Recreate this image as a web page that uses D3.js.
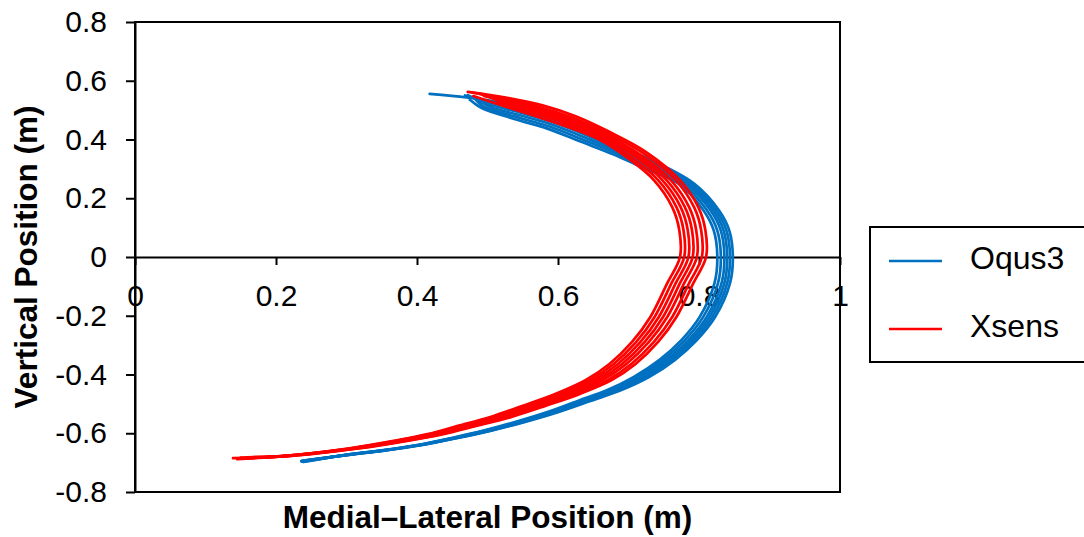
<!DOCTYPE html>
<html>
<head>
<meta charset="utf-8">
<script src="https://cdn.jsdelivr.net/npm/d3@7"></script>
<style>
  html, body { margin: 0; padding: 0; background: #fff; }
  svg { display: block; }
  text { font-family: "Liberation Sans", Arial, sans-serif; }
</style>
</head>
<body>
<svg id="chart" width="1084" height="537"></svg>
<script>
// ---------- data ----------
const xTicks = [0, 0.2, 0.4, 0.6, 0.8, 1];
const xTickLabels = ["0", "0.2", "0.4", "0.6", "0.8", "1"];
const yTicks = [-0.8, -0.6, -0.4, -0.2, 0, 0.2, 0.4, 0.6, 0.8];
const yTickLabels = ["-0.8", "-0.6", "-0.4", "-0.2", "0", "0.2", "0.4", "0.6", "0.8"];
const seriesNames = ["Oqus3", "Xsens"];
const xTitle = "Medial\u2013Lateral Position (m)";
const yTitle = "Vertical Position (m)";

// Oqus3 trials: [medial-lateral, vertical] (m)
const oqus3Trial1 = [[0.418,0.555],[0.470,0.543],[0.505,0.532],[0.552,0.506],[0.599,0.473],[0.647,0.428],[0.694,0.372],[0.737,0.325],[0.793,0.250],[0.828,0.160],[0.843,0.090],
  [0.848,0.000],[0.844,-0.089],[0.823,-0.204],[0.797,-0.283],[0.766,-0.350],[0.729,-0.409],[0.690,-0.453],[0.646,-0.490],[0.600,-0.528],[0.552,-0.562],[0.504,-0.592],[0.458,-0.616],[0.408,-0.640],[0.351,-0.660],[0.312,-0.671],[0.237,-0.695]];
const oqus3Trial2 = [[0.468,0.550],[0.502,0.527],[0.549,0.499],[0.596,0.466],[0.644,0.421],[0.691,0.367],[0.734,0.320],[0.789,0.250],[0.824,0.160],[0.839,0.090],
  [0.844,0.000],[0.840,-0.089],[0.819,-0.204],[0.793,-0.283],[0.762,-0.350],[0.725,-0.409],[0.686,-0.453],[0.643,-0.490],[0.597,-0.528],[0.550,-0.562],[0.502,-0.592],[0.456,-0.616],[0.406,-0.640],[0.350,-0.660],[0.311,-0.671],[0.236,-0.694]];
const oqus3Trial3 = [[0.472,0.551],[0.499,0.522],[0.546,0.492],[0.593,0.459],[0.641,0.414],[0.688,0.362],[0.731,0.315],[0.785,0.250],[0.820,0.160],[0.835,0.090],
  [0.840,0.000],[0.836,-0.089],[0.815,-0.204],[0.789,-0.283],[0.758,-0.350],[0.721,-0.409],[0.683,-0.453],[0.640,-0.490],[0.594,-0.528],[0.547,-0.562],[0.500,-0.592],[0.455,-0.616],[0.405,-0.640],[0.349,-0.660],[0.310,-0.671],[0.240,-0.693]];
const oqus3Trial4 = [[0.478,0.545],[0.492,0.526],[0.505,0.510],[0.544,0.484],[0.591,0.451],[0.639,0.406],[0.686,0.357],[0.729,0.310],[0.781,0.250],[0.816,0.160],[0.831,0.090],
  [0.836,0.000],[0.832,-0.089],[0.811,-0.204],[0.785,-0.283],[0.754,-0.350],[0.717,-0.409],[0.679,-0.453],[0.636,-0.490],[0.592,-0.528],[0.545,-0.562],[0.498,-0.592],[0.453,-0.616],[0.403,-0.640],[0.347,-0.660],[0.308,-0.671],[0.236,-0.696]];
const oqus3Trial5 = [[0.480,0.545],[0.494,0.513],[0.541,0.477],[0.588,0.444],[0.636,0.399],[0.683,0.353],[0.726,0.306],[0.776,0.250],[0.811,0.160],[0.826,0.090],
  [0.831,0.000],[0.827,-0.089],[0.806,-0.204],[0.780,-0.283],[0.749,-0.350],[0.712,-0.409],[0.675,-0.453],[0.632,-0.490],[0.588,-0.528],[0.542,-0.562],[0.495,-0.592],[0.451,-0.616],[0.402,-0.640],[0.346,-0.660],[0.307,-0.671],[0.238,-0.697]];
const oqus3Trial6 = [[0.475,0.535],[0.491,0.508],[0.538,0.470],[0.585,0.437],[0.633,0.392],[0.680,0.348],[0.723,0.301],[0.771,0.250],[0.806,0.160],[0.821,0.090],
  [0.826,0.000],[0.822,-0.089],[0.801,-0.204],[0.775,-0.283],[0.744,-0.350],[0.707,-0.409],[0.670,-0.453],[0.628,-0.490],[0.585,-0.528],[0.539,-0.562],[0.493,-0.592],[0.449,-0.616],[0.400,-0.640],[0.344,-0.660],[0.305,-0.671],[0.239,-0.698]];

// Xsens trials: [medial-lateral, vertical] (m)
const xsensTrial1 = [[0.472,0.562],[0.530,0.541],[0.578,0.516],[0.625,0.479],[0.672,0.427],[0.724,0.359],[0.773,0.262],[0.799,0.170],[0.809,0.092],
  [0.810,0.000],[0.792,-0.089],[0.768,-0.204],[0.742,-0.289],[0.710,-0.364],[0.676,-0.419],[0.631,-0.466],[0.582,-0.507],[0.533,-0.545],[0.484,-0.575],[0.437,-0.603],[0.386,-0.626],[0.317,-0.652],[0.222,-0.677],[0.150,-0.683]];
const xsensTrial2 = [[0.478,0.560],[0.527,0.537],[0.575,0.510],[0.622,0.473],[0.669,0.423],[0.720,0.355],[0.767,0.262],[0.793,0.170],[0.803,0.092],
  [0.804,0.000],[0.786,-0.089],[0.762,-0.204],[0.736,-0.289],[0.704,-0.364],[0.670,-0.419],[0.625,-0.466],[0.577,-0.507],[0.528,-0.545],[0.480,-0.575],[0.434,-0.603],[0.383,-0.626],[0.314,-0.652],[0.220,-0.677],[0.139,-0.685]];
const xsensTrial3 = [[0.488,0.556],[0.524,0.534],[0.572,0.505],[0.619,0.468],[0.666,0.419],[0.715,0.351],[0.760,0.262],[0.786,0.170],[0.796,0.092],
  [0.797,0.000],[0.779,-0.089],[0.755,-0.204],[0.729,-0.289],[0.697,-0.364],[0.663,-0.419],[0.619,-0.466],[0.570,-0.507],[0.523,-0.545],[0.475,-0.575],[0.430,-0.603],[0.379,-0.626],[0.311,-0.652],[0.218,-0.677],[0.158,-0.682]];
const xsensTrial4 = [[0.495,0.548],[0.522,0.531],[0.570,0.500],[0.617,0.463],[0.664,0.415],[0.712,0.347],[0.754,0.262],[0.780,0.170],[0.790,0.092],
  [0.791,0.000],[0.773,-0.089],[0.749,-0.204],[0.723,-0.289],[0.691,-0.364],[0.657,-0.419],[0.613,-0.466],[0.565,-0.507],[0.518,-0.545],[0.471,-0.575],[0.426,-0.603],[0.376,-0.626],[0.309,-0.652],[0.216,-0.677],[0.145,-0.688]];
const xsensTrial5 = [[0.505,0.542],[0.520,0.528],[0.568,0.495],[0.615,0.458],[0.662,0.411],[0.709,0.343],[0.748,0.262],[0.774,0.170],[0.784,0.092],
  [0.785,0.000],[0.767,-0.089],[0.743,-0.204],[0.717,-0.289],[0.685,-0.364],[0.651,-0.419],[0.607,-0.466],[0.560,-0.507],[0.513,-0.545],[0.467,-0.575],[0.422,-0.603],[0.373,-0.626],[0.307,-0.652],[0.214,-0.677],[0.152,-0.686]];
const xsensTrial6 = [[0.512,0.525],[0.565,0.490],[0.612,0.453],[0.659,0.407],[0.704,0.339],[0.742,0.262],[0.768,0.170],[0.778,0.092],
  [0.779,0.000],[0.761,-0.089],[0.737,-0.204],[0.711,-0.289],[0.679,-0.364],[0.645,-0.419],[0.602,-0.466],[0.554,-0.507],[0.508,-0.545],[0.463,-0.575],[0.419,-0.603],[0.370,-0.626],[0.304,-0.652],[0.212,-0.677],[0.160,-0.684]];
const xsensTrial7 = [[0.480,0.548],[0.514,0.521],[0.562,0.484],[0.609,0.447],[0.656,0.403],[0.700,0.335],[0.736,0.262],[0.762,0.170],[0.772,0.092],
  [0.773,0.000],[0.755,-0.089],[0.731,-0.204],[0.705,-0.289],[0.673,-0.364],[0.639,-0.419],[0.596,-0.466],[0.549,-0.507],[0.504,-0.545],[0.458,-0.575],[0.415,-0.603],[0.367,-0.626],[0.302,-0.652],[0.211,-0.677],[0.168,-0.681]];

const oqus3Trials = [oqus3Trial1, oqus3Trial2, oqus3Trial3, oqus3Trial4, oqus3Trial5, oqus3Trial6];
const xsensTrials = [xsensTrial1, xsensTrial2, xsensTrial3, xsensTrial4, xsensTrial5, xsensTrial6, xsensTrial7];

// ---------- drawing ----------
const colors = { Oqus3: "#0070C0", Xsens: "#FF0000" };
const svg = d3.select("#chart");
const plot = { left: 135, right: 840, top: 22, bottom: 492 };

const x = d3.scaleLinear().domain([0, 1]).range([plot.left, plot.right]);
const y = d3.scaleLinear().domain([-0.8, 0.8]).range([plot.bottom, plot.top]);

// frame
svg.append("rect")
  .attr("x", plot.left).attr("y", plot.top)
  .attr("width", plot.right - plot.left).attr("height", plot.bottom - plot.top)
  .attr("fill", "none").attr("stroke", "#000").attr("stroke-width", 2);

// y axis
const yAxis = d3.axisLeft(y)
  .tickValues(yTicks)
  .tickFormat((d, i) => yTickLabels[i])
  .tickSize(9).tickSizeOuter(0).tickPadding(19);
const gy = svg.append("g").attr("transform", `translate(${plot.left},0)`).call(yAxis);
gy.select(".domain").attr("stroke", "#000").attr("stroke-width", 2);
gy.selectAll(".tick line").attr("stroke", "#000").attr("stroke-width", 2);
gy.selectAll(".tick text").attr("font-size", 30).attr("fill", "#000")
  .attr("font-family", "'Liberation Sans', Arial, sans-serif");

// x axis crossing at y = 0
const xAxis = d3.axisBottom(x)
  .tickValues(xTicks)
  .tickFormat((d, i) => xTickLabels[i])
  .tickSize(8).tickSizeOuter(0).tickPadding(20);
const gx = svg.append("g").attr("transform", `translate(0,${y(0)})`).call(xAxis);
gx.select(".domain").attr("stroke", "#000").attr("stroke-width", 2);
gx.selectAll(".tick line").attr("stroke", "#000").attr("stroke-width", 2);
gx.selectAll(".tick text").attr("font-size", 30).attr("fill", "#000")
  .attr("font-family", "'Liberation Sans', Arial, sans-serif");

// curves
const line = d3.line()
  .x(d => x(d[0])).y(d => y(d[1]))
  .curve(d3.curveCatmullRom.alpha(0.5));

const curves = svg.append("g").attr("fill", "none")
  .attr("stroke-width", 2.7).attr("stroke-linejoin", "round").attr("stroke-linecap", "round");
curves.selectAll("path.oqus3").data(oqus3Trials).join("path")
  .attr("class", "oqus3").attr("d", line).attr("stroke", colors.Oqus3);
curves.selectAll("path.xsens").data(xsensTrials).join("path")
  .attr("class", "xsens").attr("d", line).attr("stroke", colors.Xsens);

// axis titles
svg.append("text")
  .attr("x", (plot.left + plot.right) / 2).attr("y", 528)
  .attr("text-anchor", "middle").attr("font-size", 31.5).attr("font-weight", "bold")
  .text(xTitle);
svg.append("text")
  .attr("transform", `translate(37,${(plot.top + plot.bottom) / 2}) rotate(-90)`)
  .attr("text-anchor", "middle").attr("font-size", 31.5).attr("font-weight", "bold")
  .text(yTitle);

// legend
const legend = svg.append("g");
legend.append("rect")
  .attr("x", 870).attr("y", 227).attr("width", 240).attr("height", 135)
  .attr("fill", "#fff").attr("stroke", "#000").attr("stroke-width", 2);
const legendRowsY = [261, 329];
seriesNames.forEach((name, i) => {
  legend.append("line")
    .attr("x1", 889).attr("x2", 942)
    .attr("y1", legendRowsY[i]).attr("y2", legendRowsY[i])
    .attr("stroke", colors[name]).attr("stroke-width", 2.6);
  legend.append("text")
    .attr("x", 970).attr("y", legendRowsY[i] - 3)
    .attr("dominant-baseline", "central")
    .attr("font-size", 32).attr("fill", "#000")
    .text(name);
});
</script>
</body>
</html>
